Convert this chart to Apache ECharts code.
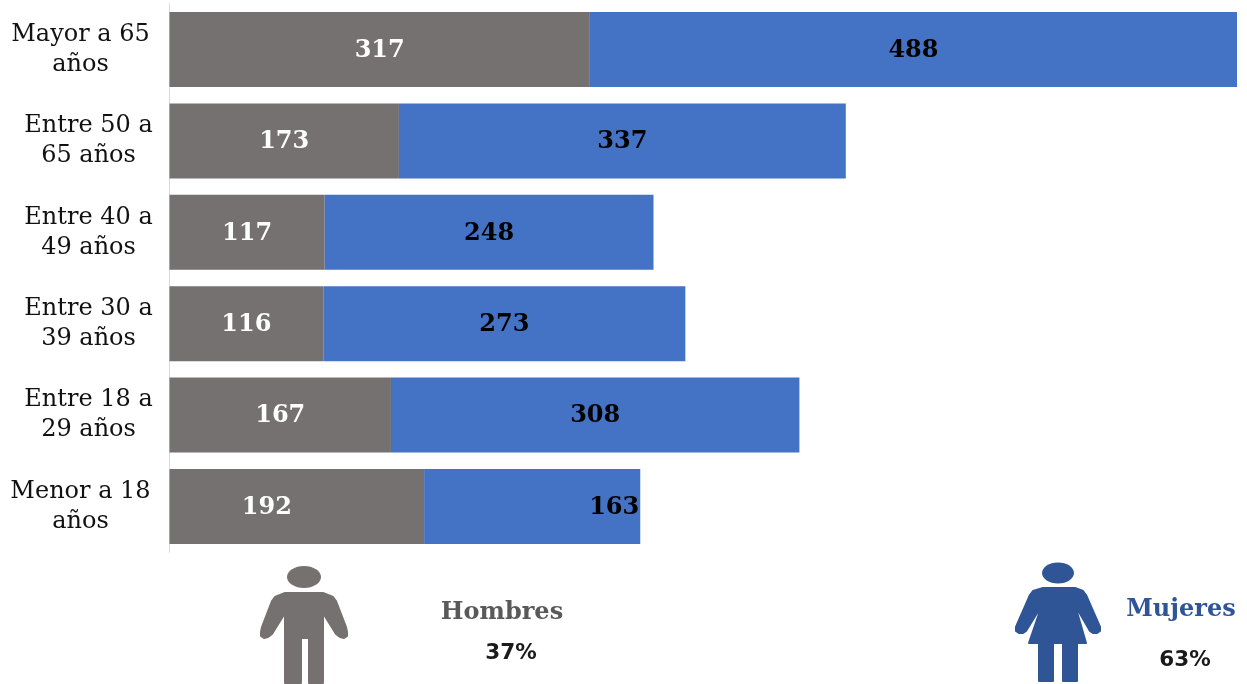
<!DOCTYPE html>
<html><head><meta charset="utf-8">
<style>html,body{margin:0;padding:0;background:#fff}#c{width:1247px;height:684px}</style>
<script src="https://cdn.jsdelivr.net/npm/echarts@6/dist/echarts.min.js"></script>
</head><body><div id="c"></div>
<script>
const categories = ['Mayor a 65\naños','Entre 50 a\n65 años','Entre 40 a\n49 años','Entre 30 a\n39 años','Entre 18 a\n29 años','Menor a 18\naños'];
const hombres = [317,173,117,116,167,192];
const mujeres = [488,337,248,273,308,163];
const serif = '"DejaVu Serif","Liberation Serif",serif';
const chart = echarts.init(document.getElementById('c'),null,{renderer:'canvas'});
const manPts = [[285,613],[272,634],[268,637],[264,638],[261,636],[261,632],[262,627],[272,601],[275,597],[285,593],[323,593],[333,597],[336,601],[346,627],[347,632],[347,636],[344,638],[340,637],[336,634],[323,613],[323,683],[309,683],[309,638],[301,638],[301,683],[285,683]];
const womanPts = [[1043,588],[1075,588],[1083,591],[1086,595],[1100,627],[1100,631],[1097,633],[1093,633],[1090,631],[1075,605],[1086,643],[1077,643],[1077,681],[1063,681],[1063,643],[1053,643],[1053,681],[1039,681],[1039,643],[1029,643],[1042,605],[1026,631],[1023,633],[1019,633],[1016,631],[1016,627],[1030,595],[1033,591]];
function txt(x,y,t,font,size,color){return {type:'text',x:x,y:y,style:{text:t,fontFamily:font,fontSize:size,fontWeight:'bold',fill:color,align:'center',verticalAlign:'middle'}};}
function shape(pts,c){return {type:'polygon',shape:{points:pts},style:{fill:c,stroke:c,lineWidth:2,lineJoin:'round'}};}
chart.setOption({
  animation:false,
  backgroundColor:'#fff',
  grid:{left:169.5,top:3.8,width:1067.5,height:548.4,containLabel:false},
  xAxis:{type:'value',min:0,max:805,show:false},
  yAxis:{type:'category',inverse:true,data:categories,
    axisLine:{show:true,lineStyle:{color:'#D9D9D9',width:1}},axisTick:{show:false},
    axisLabel:{margin:81,align:'center',interval:0,
      formatter:function(v){
        const k = /^(Mayor|Menor)/.test(v)?'w':'n';
        return v.split('\n').map(s=>'{'+k+'|'+s+'}').join('\n');
      },
      rich:{
        n:{fontFamily:serif,fontSize:24,color:'#111',lineHeight:30},
        w:{fontFamily:serif,fontSize:24,color:'#111',lineHeight:30,padding:[0,16,0,0]}
      }}},
  series:[
    {name:'Hombres',type:'bar',stack:'t',barWidth:75,data:hombres.map((v,i)=>i===5?{value:v,label:{offset:[-30,1]}}:v),itemStyle:{color:'#767171'},
      label:{show:true,position:'inside',offset:[0,1],color:'#fff',fontFamily:serif,fontWeight:'bold',fontSize:24}},
    {name:'Mujeres',type:'bar',stack:'t',barWidth:75,data:mujeres.map((v,i)=>i===5?{value:v,label:{position:'insideRight',distance:1}}:v),itemStyle:{color:'#4472C4'},
      label:{show:true,position:'inside',offset:[0,1],color:'#000',fontFamily:serif,fontWeight:'bold',fontSize:24}}
  ],
  graphic:[
    {type:'ellipse',shape:{cx:304,cy:577,rx:17,ry:11},style:{fill:'#767171'}},
    shape(manPts,'#767171'),
    {type:'ellipse',shape:{cx:1058,cy:573,rx:16,ry:10.5},style:{fill:'#2F5597'}},
    shape(womanPts,'#2F5597'),
    txt(502,613,'Hombres',serif,24,'#595959'),
    txt(511,653,'37%','"DejaVu Sans",sans-serif',21.5,'#1a1a1a'),
    txt(1181,610,'Mujeres',serif,24,'#2F5597'),
    txt(1185,660,'63%','"DejaVu Sans",sans-serif',21.5,'#1a1a1a')
  ]
});
</script></body></html>
